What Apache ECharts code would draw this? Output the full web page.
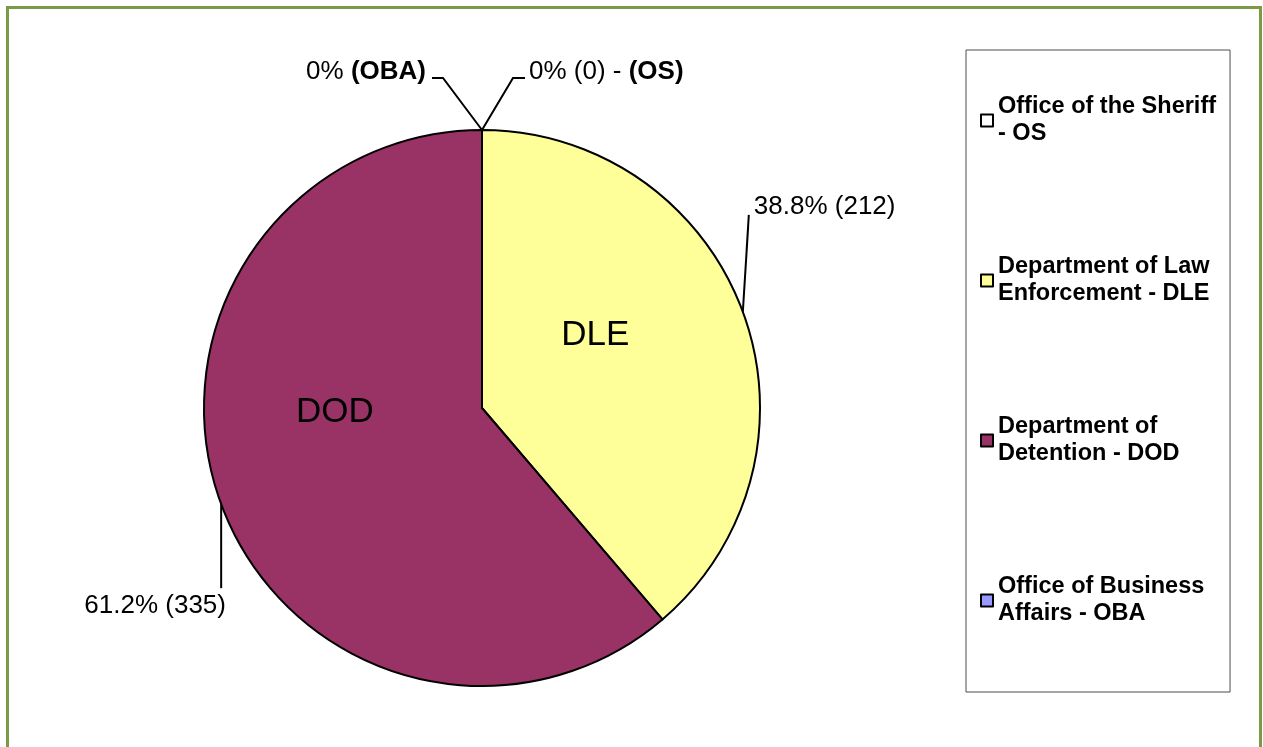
<!DOCTYPE html>
<html>
<head>
<meta charset="utf-8">
<title>Distribution by department</title>
<script src="https://cdn.jsdelivr.net/npm/echarts@6/dist/echarts.min.js"></script>
<style>
  html, body { margin: 0; padding: 0; background: #fff; }
  #frame {
    position: absolute; left: 6px; top: 6px; width: 1250px; height: 800px;
    border: 3px solid #7c9a45; pointer-events: none; z-index: 2;
  }
  #chart { position: absolute; left: 0; top: 0; width: 1263px; height: 747px; }
</style>
</head>
<body>
<div id="chart"></div>
<div id="frame"></div>
<script>
// slices in drawing order, clockwise from the top
const names = [
  'Office of the Sheriff - OS',
  'Department of Law Enforcement - DLE',
  'Department of Detention - DOD',
  'Office of Business Affairs - OBA'
];
const codes = ['OS', 'DLE', 'DOD', 'OBA'];
const counts = [0, 212, 335, 0];
const colors = ['#ffffff', '#ffff99', '#993366', '#9999ff'];
// legend text, wrapped like the original
const legendLines = {
  'Office of the Sheriff - OS': 'Office of the Sheriff\n- OS',
  'Department of Law Enforcement - DLE': 'Department of Law\nEnforcement - DLE',
  'Department of Detention - DOD': 'Department of\nDetention - DOD',
  'Office of Business Affairs - OBA': 'Office of Business\nAffairs - OBA'
};

const font = 'Arial, "Liberation Sans", sans-serif';

// where each outside label sits, relative to its anchor on the pie edge
const outerSpots = [
  { bend: [[31, -52], [43, -52]], text: [47, -58], align: 'left' },
  { bend: [[6, -97]], text: [11, -105], align: 'left' },
  { bend: [[0, 84]], text: [-66, 102], align: 'center' },
  { bend: [[-39, -52], [-50, -52]], text: [-56, -58], align: 'right' }
];
// nudges for the names printed inside the slices
const innerNudge = [[0, 0], [-20, -24], [-14, -45], [0, 0]];

const pieData = names.map((n, i) => ({ name: n, value: counts[i], itemStyle: { color: colors[i] } }));
const ghostData = names.map((n, i) => ({ name: n, value: counts[i] }));

const chart = echarts.init(document.getElementById('chart'));
chart.setOption({
  animation: false,
  legend: {
    orient: 'vertical',
    left: 966,
    top: 50,
    padding: [30, 14, 51, 14],
    borderColor: '#4d4d4d',
    borderWidth: 1,
    icon: 'rect',
    itemWidth: 12,
    itemHeight: 12,
    itemGap: 79,
    data: names,
    formatter: name => legendLines[name],
    textStyle: {
      fontFamily: font,
      fontWeight: 'bold',
      fontSize: 23.5,
      lineHeight: 27,
      color: '#000',
      padding: [27, 0, 0, 0]
    }
  },
  series: [
    {
      type: 'pie',
      center: [482, 408],
      radius: 278,
      startAngle: 90,
      clockwise: true,
      percentPrecision: 1,
      avoidLabelOverlap: false,
      data: pieData,
      itemStyle: { borderColor: '#000', borderWidth: 2 },
      emphasis: { disabled: true },
      label: {
        show: true,
        position: 'outside',
        color: '#000',
        formatter: function (p) {
          const pct = p.percent + '%';
          if (p.dataIndex === 0) return '{n|' + pct + ' (' + p.value + ') - }{b|(' + codes[0] + ')}';
          if (p.dataIndex === 3) return '{n|' + pct + ' }{b|(' + codes[3] + ')}';
          return '{n|' + pct + ' (' + p.value + ')}';
        },
        rich: {
          n: { fontFamily: font, fontSize: 26, color: '#000' },
          b: { fontFamily: font, fontSize: 26, fontWeight: 'bold', color: '#000' }
        }
      },
      labelLine: {
        show: true,
        length: 20,
        length2: 10,
        lineStyle: { color: '#000', width: 2 }
      },
      labelLayout: function (params) {
        const pts = params.labelLinePoints;
        if (!pts) return {};
        const a = pts[0];
        const s = outerSpots[params.dataIndex];
        return {
          x: a[0] + s.text[0],
          y: a[1] + s.text[1],
          align: s.align,
          verticalAlign: 'middle',
          labelLinePoints: [[a[0], a[1]]].concat(s.bend.map(b => [a[0] + b[0], a[1] + b[1]]))
        };
      }
    },
    {
      // same slices again, only to print the short names inside
      type: 'pie',
      center: [482, 408],
      radius: 278,
      startAngle: 90,
      clockwise: true,
      silent: true,
      avoidLabelOverlap: false,
      data: ghostData,
      itemStyle: { color: 'rgba(0,0,0,0)', borderWidth: 0 },
      emphasis: { disabled: true },
      labelLine: { show: false },
      label: {
        show: true,
        position: 'inside',
        color: '#000',
        opacity: 1,
        fontFamily: font,
        fontSize: 35,
        formatter: p => (p.value > 0 ? codes[p.dataIndex] : '')
      },
      labelLayout: function (params) {
        const d = innerNudge[params.dataIndex];
        return { dx: d[0], dy: d[1] };
      }
    }
  ]
});
</script>
</body>
</html>
